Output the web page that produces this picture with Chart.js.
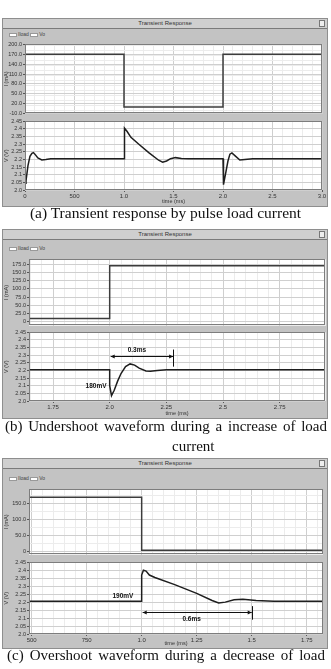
<!DOCTYPE html>
<html>
<head>
<meta charset="utf-8">
<script src="https://cdn.jsdelivr.net/npm/chart.js@4/dist/chart.umd.min.js"></script>
<style>
body{margin:0;width:331px;height:669px;background:#fff;position:relative;overflow:hidden;font-family:"Liberation Sans",Arial,sans-serif}
.frame{position:absolute;left:2px;width:324px;background:#c3c3c3;border:1px solid #8e8e8e}
.bar{position:absolute;left:0;right:0;top:0;height:9px;background:#cfcfcf;border-bottom:1px solid #7a7a7a;font-size:6px;line-height:9px;text-align:center;color:#333}
.btn{position:absolute;right:2px;top:1px;width:4px;height:5px;border:1px solid #777;background:#eee}
.leg{position:absolute;left:6px;font-size:5px;color:#444;line-height:6px;white-space:nowrap}
.sw{display:inline-block;width:6px;height:2px;background:#fff;border:1px solid #999;vertical-align:middle;margin:0 1px 0 0}
canvas{position:absolute}
.cap{position:absolute;font-family:"Liberation Serif","Times New Roman",serif;font-size:15px;line-height:17px;color:#111;white-space:nowrap}
.just{text-align:justify;text-align-last:justify;white-space:normal}
</style>
</head>
<body>

<div class="frame" style="top:18px;height:187px"><div class="bar">Transient Response<div class="btn"></div></div>
  <div class="leg" style="top:12px"><span class="sw"></span>Iload <span class="sw"></span>Vo</div></div>
<div class="frame" style="top:229px;height:188px"><div class="bar">Transient Response<div class="btn"></div></div>
  <div class="leg" style="top:15px"><span class="sw"></span>Iload <span class="sw"></span>Vo</div></div>
<div class="frame" style="top:458px;height:189px"><div class="bar">Transient Response<div class="btn"></div></div>
  <div class="leg" style="top:16px"><span class="sw"></span>Iload <span class="sw"></span>Vo</div></div>

<canvas id="aLoadChart"></canvas>
<canvas id="aVoChart"></canvas>
<canvas id="bLoadChart"></canvas>
<canvas id="bVoChart"></canvas>
<canvas id="cLoadChart"></canvas>
<canvas id="cVoChart"></canvas>

<div class="cap" style="top:204px;left:0;width:331px;text-align:center;font-size:15.5px">(a) Transient response by pulse load current</div>
<div class="cap just" style="top:418px;left:5px;width:322px">(b) Undershoot waveform during a increase of load</div>
<div class="cap" style="top:438px;left:172px">current</div>
<div class="cap just" style="top:647px;left:7px;width:318px">(c) Overshoot waveform during a decrease of load</div>

<script>
// (a) pulse load
const aLoadTime = [0, 1.0, 1.0, 2.0, 2.0, 3.0];
const aLoad = [170, 170, 10, 10, 170, 170];
const aVoTime = [0, 0.01, 0.03, 0.05, 0.07, 0.085, 0.1, 0.13, 0.17, 0.21, 0.26, 0.32,
  1.0, 1.0, 1.01, 1.03, 1.07, 1.15, 1.25, 1.35, 1.39, 1.43, 1.47, 1.52, 1.58, 1.65,
  2.0, 2.0, 2.01, 2.03, 2.05, 2.07, 2.09, 2.12, 2.17, 2.22, 2.3, 3.0];
const aVo = [2.045, 2.06, 2.16, 2.22, 2.24, 2.245, 2.235, 2.21, 2.197, 2.2, 2.205, 2.205,
  2.205, 2.39, 2.405, 2.385, 2.345, 2.3, 2.245, 2.195, 2.182, 2.19, 2.205, 2.212, 2.207, 2.205,
  2.205, 2.1, 2.035, 2.12, 2.19, 2.235, 2.243, 2.225, 2.196, 2.2, 2.205, 2.205];

// (b) load step up
const bLoadTime = [1.644, 2.0, 2.0, 2.95];
const bLoad = [10, 10, 170, 170];
const bVoTime = [1.644, 2.0, 2.0, 2.008, 2.02, 2.035, 2.05, 2.07, 2.09, 2.11, 2.13, 2.16, 2.18, 2.21, 2.25, 2.95];
const bVo = [2.205, 2.205, 2.1, 2.035, 2.07, 2.13, 2.18, 2.225, 2.243, 2.235, 2.215, 2.197, 2.195, 2.2, 2.205, 2.205];

// (c) load step down
const cLoadTime = [0.488, 1.0, 1.0, 1.824];
const cLoad = [170, 170, 5, 5];
const cVoTime = [0.488, 1.0, 1.0, 1.008, 1.02, 1.035, 1.06, 1.15, 1.25, 1.32, 1.35, 1.38, 1.42, 1.46, 1.52, 1.6, 1.824];
const cVo = [2.205, 2.205, 2.37, 2.4, 2.395, 2.37, 2.355, 2.31, 2.255, 2.21, 2.195, 2.2, 2.215, 2.218, 2.21, 2.205, 2.205];

// tick labels
const aTimeTicks = [0, 0.5, 1.0, 1.5, 2.0, 2.5, 3.0];
const aTimeLabels = ["0", "500", "1.0", "1.5", "2.0", "2.5", "3.0"];
const bTimeTicks = [1.75, 2.0, 2.25, 2.5, 2.75];
const bTimeLabels = ["1.75", "2.0", "2.25", "2.5", "2.75"];
const cTimeTicks = [0.5, 0.75, 1.0, 1.25, 1.5, 1.75];
const cTimeLabels = ["500", "750", "1.0", "1.25", "1.5", "1.75"];
const aLoadTicks = [-10, 20, 50, 80, 110, 140, 170, 200];
const aLoadLabels = ["-10.0", "20.0", "50.0", "80.0", "110.0", "140.0", "170.0", "200.0"];
const bLoadTicks = [0, 25, 50, 75, 100, 125, 150, 175];
const bLoadLabels = ["0", "25.0", "50.0", "75.0", "100.0", "125.0", "150.0", "175.0"];
const cLoadTicks = [0, 50, 100, 150];
const cLoadLabels = ["0", "50.0", "100.0", "150.0"];
const voTicks = [2.0, 2.05, 2.1, 2.15, 2.2, 2.25, 2.3, 2.35, 2.4, 2.45];
const voLabels = ["2.0", "2.05", "2.1", "2.15", "2.2", "2.25", "2.3", "2.35", "2.4", "2.45"];

// annotations: [from, to, level], marker [top, bottom], text [label, x, y]
const bSpan = [2.0, 2.28, 2.293];
const bMark = [2.337, 2.225];
const bSpanText = ["0.3ms", 2.12, 2.335];
const bDipText = ["180mV", 1.94, 2.10];
const cSpan = [1.0, 1.5, 2.137];
const cMark = [2.175, 2.09];
const cSpanText = ["0.6ms", 1.227, 2.095];
const cPeakText = ["190mV", 0.915, 2.24];

Chart.defaults.font.family = '"Liberation Sans", Arial, sans-serif';
Chart.defaults.font.size = 6;
Chart.defaults.color = '#333';

const MAJOR = '#cfcfcf', MINOR = '#ececec';

function near(a, b) { return Math.abs(a - b) < 1e-6; }
function isMajor(v, list) { return list.some(m => near(m, v)); }
function labelFor(v, vals, labs) {
  for (let i = 0; i < vals.length; i++) if (near(vals[i], v)) return labs[i];
  return '';
}
function gridVals(min, max, major, step) {
  const out = major.filter(v => v >= min - 1e-9 && v <= max + 1e-9);
  for (let k = Math.ceil(min / step - 1e-9); k * step <= max + 1e-9; k++) {
    const v = +(k * step).toFixed(6);
    if (!isMajor(v, out)) out.push(v);
  }
  return out.sort((a, b) => a - b);
}

const plotFrame = {
  id: 'plotFrame',
  beforeDraw(chart) {
    const a = chart.chartArea, c = chart.ctx;
    c.save(); c.fillStyle = '#fff'; c.fillRect(a.left, a.top, a.width, a.height); c.restore();
  },
  afterDraw(chart) {
    const a = chart.chartArea, c = chart.ctx;
    c.save(); c.strokeStyle = '#7d7d7d'; c.lineWidth = 1;
    c.strokeRect(Math.round(a.left) + 0.5, Math.round(a.top) + 0.5, Math.round(a.width) - 1, Math.round(a.height) - 1);
    c.restore();
  }
};

const notes = {
  id: 'notes',
  afterDatasetsDraw(chart, args, o) {
    if (!o.span) return;
    const X = v => chart.scales.x.getPixelForValue(v), Y = v => chart.scales.y.getPixelForValue(v);
    const c = chart.ctx;
    c.save();
    c.strokeStyle = '#111'; c.fillStyle = '#111'; c.lineWidth = 1;
    const x1 = X(o.span[0]) + 1, x2 = X(o.span[1]), y = Math.round(Y(o.span[2])) + 0.5;
    c.beginPath(); c.moveTo(x1, y); c.lineTo(x2, y); c.stroke();
    [[x1, 1], [x2, -1]].forEach(([x, d]) => {
      c.beginPath(); c.moveTo(x, y); c.lineTo(x + 4 * d, y - 2); c.lineTo(x + 4 * d, y + 2); c.closePath(); c.fill();
    });
    const mx = Math.round(x2) + 0.5;
    c.beginPath(); c.moveTo(mx, Y(o.mark[0])); c.lineTo(mx, Y(o.mark[1])); c.stroke();
    c.font = 'bold 6.5px "Liberation Sans", Arial, sans-serif';
    c.textAlign = 'center'; c.textBaseline = 'middle';
    o.texts.forEach(t => c.fillText(t[0], X(t[1]), Y(t[2])));
    c.restore();
  }
};

function plot(id, p) {
  const el = document.getElementById(id);
  const bottom = p.xAxisH > 0;
  const [L, T, R, B] = p.box;
  el.width = 326;
  el.height = B - T + 4 + (bottom ? p.xAxisH : 2);
  el.style.left = '2px';
  el.style.top = (T - 4) + 'px';
  const xGrid = gridVals(p.xRange[0], p.xRange[1], p.xTicks, p.xMinor);
  const yGrid = gridVals(p.yRange[0], p.yRange[1], p.yTicks, p.yMinor);
  return new Chart(el, {
    type: 'line',
    data: {
      datasets: [{
        data: p.xs.map((x, i) => ({ x: x, y: p.ys[i] })),
        borderColor: p.color, borderWidth: 1.5, pointRadius: 0, tension: 0, fill: false
      }]
    },
    options: {
      responsive: false, animation: false, events: [],
      layout: { padding: { top: 4, left: 0, right: 328 - R, bottom: bottom ? 0 : 2 } },
      plugins: { legend: { display: false }, tooltip: { enabled: false }, notes: p.notes || {} },
      scales: {
        x: {
          type: 'linear', min: p.xRange[0], max: p.xRange[1],
          afterBuildTicks: s => { s.ticks = xGrid.map(v => ({ value: v })); },
          afterFit: s => { s.height = bottom ? p.xAxisH : 0; },
          ticks: { display: bottom, autoSkip: false, maxRotation: 0, padding: 1, color: '#333',
                   callback: v => labelFor(v, p.xTicks, p.xLabels) },
          grid: { color: c => isMajor(c.tick.value, p.xTicks) ? MAJOR : MINOR,
                  drawTicks: bottom, tickLength: 2,
                  tickColor: c => isMajor(c.tick.value, p.xTicks) ? '#555' : 'rgba(0,0,0,0)' },
          border: { display: false },
          title: { display: bottom, text: 'time (ms)', color: '#333', font: { size: 5.5 }, padding: 0 }
        },
        y: {
          type: 'linear', min: p.yRange[0], max: p.yRange[1],
          afterBuildTicks: s => { s.ticks = yGrid.map(v => ({ value: v })); },
          afterFit: s => { s.width = L - 2; },
          ticks: { autoSkip: false, padding: 1, color: '#333', font: { size: 5.5 },
                   callback: v => labelFor(v, p.yTicks, p.yLabels) },
          grid: { color: c => isMajor(c.tick.value, p.yTicks) ? MAJOR : MINOR,
                  tickLength: 2,
                  tickColor: c => isMajor(c.tick.value, p.yTicks) ? '#555' : 'rgba(0,0,0,0)' },
          border: { display: false },
          title: { display: true, text: p.yTitle, color: '#333', font: { size: 5.5 }, padding: { top: 1, bottom: 0 } }
        }
      }
    },
    plugins: [plotFrame, notes]
  });
}

// panel (a)
plot('aLoadChart', { box: [25, 44, 322, 116], xAxisH: 0, xRange: [0, 3.0], xTicks: aTimeTicks, xLabels: aTimeLabels, xMinor: 0.1,
  yRange: [-10, 200], yTicks: aLoadTicks, yLabels: aLoadLabels, yMinor: 15, yTitle: 'I (mA)',
  xs: aLoadTime, ys: aLoad, color: '#3c3c3c' });
plot('aVoChart', { box: [25, 121, 322, 190], xAxisH: 15, xRange: [0, 3.0], xTicks: aTimeTicks, xLabels: aTimeLabels, xMinor: 0.1,
  yRange: [2.0, 2.45], yTicks: voTicks, yLabels: voLabels, yMinor: 0.05, yTitle: 'V (V)',
  xs: aVoTime, ys: aVo, color: '#1e1e1e' });

// panel (b)
plot('bLoadChart', { box: [29, 259, 325, 328], xAxisH: 0, xRange: [1.644, 2.95], xTicks: bTimeTicks, xLabels: bTimeLabels, xMinor: 0.05,
  yRange: [-12, 190], yTicks: bLoadTicks, yLabels: bLoadLabels, yMinor: 25, yTitle: 'I (mA)',
  xs: bLoadTime, ys: bLoad, color: '#3c3c3c' });
plot('bVoChart', { box: [29, 332, 325, 401], xAxisH: 16, xRange: [1.644, 2.95], xTicks: bTimeTicks, xLabels: bTimeLabels, xMinor: 0.05,
  yRange: [2.0, 2.45], yTicks: voTicks, yLabels: voLabels, yMinor: 0.05, yTitle: 'V (V)',
  xs: bVoTime, ys: bVo, color: '#1e1e1e',
  notes: { span: bSpan, mark: bMark, texts: [bSpanText, bDipText] } });

// panel (c)
plot('cLoadChart', { box: [29, 489, 323, 557], xAxisH: 0, xRange: [0.488, 1.824], xTicks: cTimeTicks, xLabels: cTimeLabels, xMinor: 0.05,
  yRange: [-9, 195], yTicks: cLoadTicks, yLabels: cLoadLabels, yMinor: 25, yTitle: 'I (mA)',
  xs: cLoadTime, ys: cLoad, color: '#3c3c3c' });
plot('cVoChart', { box: [29, 562, 323, 634], xAxisH: 13, xRange: [0.488, 1.824], xTicks: cTimeTicks, xLabels: cTimeLabels, xMinor: 0.05,
  yRange: [2.0, 2.45], yTicks: voTicks, yLabels: voLabels, yMinor: 0.05, yTitle: 'V (V)',
  xs: cVoTime, ys: cVo, color: '#1e1e1e',
  notes: { span: cSpan, mark: cMark, texts: [cSpanText, cPeakText] } });
</script>
</body>
</html>
